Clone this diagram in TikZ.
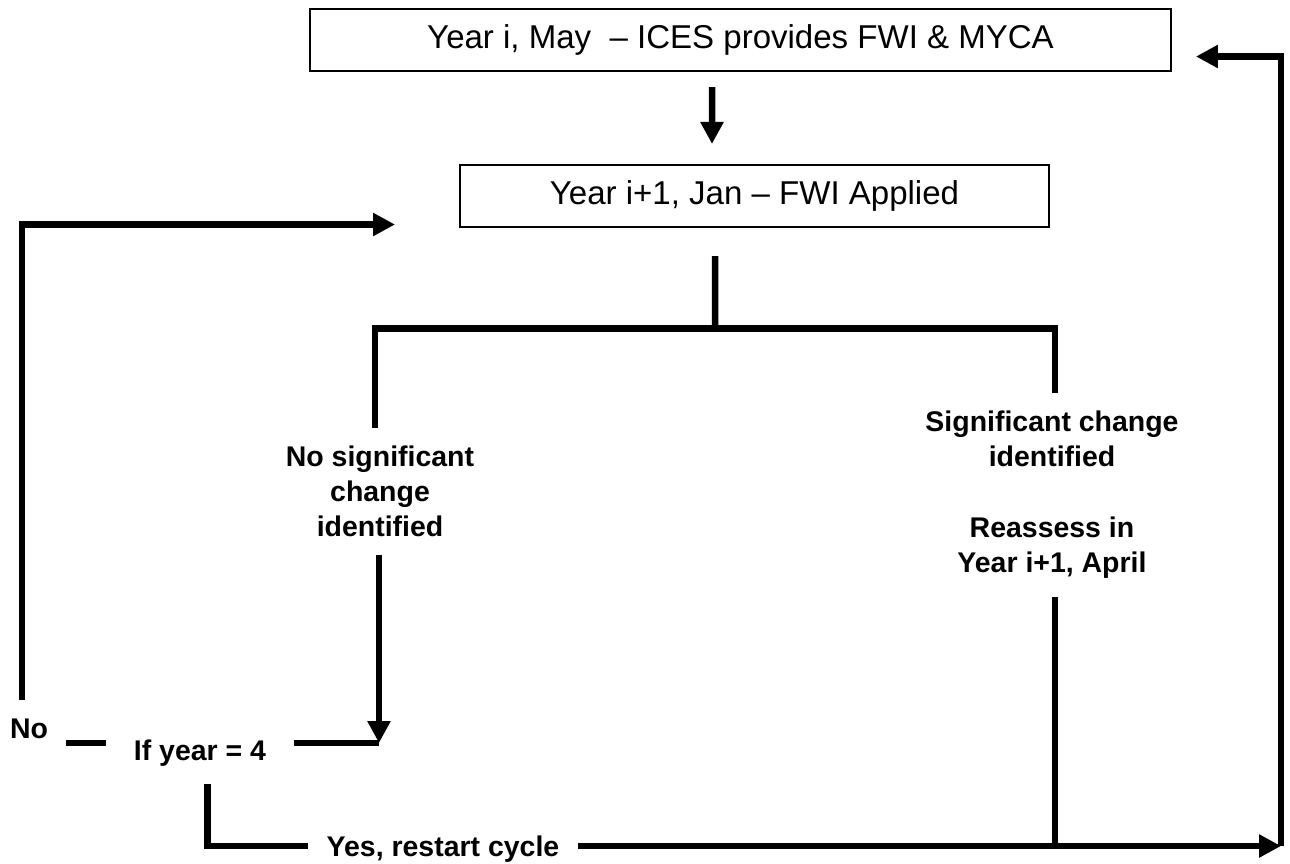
\documentclass[tikz,border=0pt]{standalone}
\usepackage{fontspec}
\setmainfont{Liberation Sans}
\usetikzlibrary{arrows.meta}

\begin{document}
\begin{tikzpicture}[x=0.02cm, y=-0.02cm,
  box/.style={draw, line width=1.2pt, minimum height=1.24cm, inner sep=0pt, font=\fontsize{18.8}{22}\selectfont},
  lbl/.style={align=center, inner sep=0.36cm, font=\fontsize{16.2}{19.9}\selectfont\bfseries},
  flow/.style={line width=0.13cm},
  arr/.style={-{Triangle[length=0.44cm, width=0.44cm]}}]
  % Fix the canvas
  \useasboundingbox (0,0) rectangle (1290,863);

  % The two boxes
  \node[box, minimum width=17.22cm] (ices) at (740.5,40) {Year i, May\ \ – ICES provides FWI \& MYCA};
  \node[box, minimum width=11.78cm] (fwi) at (754.5,196) {Year i+1, Jan – FWI Applied};

  % Labels
  \node[lbl] (nochange) at (380,491.5) {No significant\\change\\identified};
  \node[lbl] (sig) at (1052,439) {Significant change\\identified};
  \node[lbl] (reassess) at (1052,547.5) {Reassess in\\Year i+1, April};
  \node[lbl, anchor=base] (no) at (29,738) {No};
  \node[lbl, anchor=base, inner xsep=0.56cm] (ifyear) at (200,760) {If year = 4};
  \node[lbl, anchor=base] (yes) at (443,856) {Yes, restart cycle};

  % Junction points
  \coordinate (split) at (715,328.5);
  \coordinate (barL) at (375,328.5);
  \coordinate (barR) at (1055,328.5);
  \coordinate (merge) at (379,743);
  \coordinate (loop) at (22,224.5);
  \coordinate (back) at (395,224.5);
  \coordinate (corner) at (207.5,846);
  \coordinate (restart) at (1281,846);
  \coordinate (top) at (1281,56.5);

  % Top arrow and stem
  \draw[flow, arr] ([xshift=-0.57cm, yshift=-0.3cm]ices.south) -- ([xshift=-0.85cm, yshift=0.4cm]fwi.north);
  \draw[flow] ([xshift=-0.79cm, yshift=-0.56cm]fwi.south) -- (split);

  % Split into the two branches
  \draw[flow] (nochange.north -| barL) -- (barL) -- (barR) -- (sig.north -| barR);

  % No change branch
  \draw[flow, arr] (nochange.south -| merge) -- (merge);
  \draw[flow] (ifyear.east |- merge) -- (merge);
  \draw[flow] (no.east |- merge) -- (ifyear.west |- merge);
  \draw[flow, arr] (no.north -| loop) -- (loop) -- (back);

  % Restart cycle
  \draw[flow] (ifyear.south -| corner) -- (corner) -- (yes.west |- corner);
  \draw[flow, arr] (yes.east |- corner) -- (restart);
  \draw[flow] (reassess.south -| barR) -- (barR |- restart);
  \draw[flow, arr] (restart) -- (top) -- ([xshift=0.48cm]ices.east |- top);
\end{tikzpicture}
\end{document}
